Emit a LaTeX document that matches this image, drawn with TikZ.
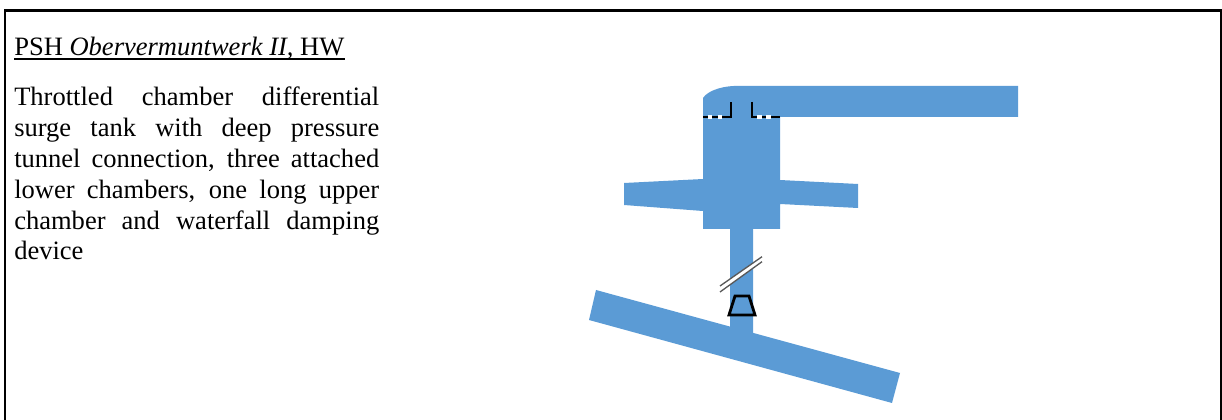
\documentclass[tikz,border=0pt]{standalone}
\usepackage{fontspec}
\setmainfont{Liberation Serif}
\usepackage{tikz}
\usetikzlibrary{positioning}
\definecolor{waterblue}{RGB}{91,155,213}
\begin{document}
\begin{tikzpicture}[
  x=0.75pt, y=-0.75pt,
  water/.style={fill=waterblue, draw=none},
  edge/.style={draw=black, line width=2.1pt},
  lip/.style={draw=black, line width=2.1pt},
  gap/.style={draw=white, line width=2.3pt},
  heading/.style={font=\fontsize{19.9}{23}\selectfont, anchor=base west, inner sep=0pt},
  body/.style={font=\fontsize{19.9}{23.1}\selectfont, anchor=north west, inner sep=0pt,
    text width=273.75pt, align=justify},
]
  \useasboundingbox (0,0) rectangle (1222,420);
  % Frame, open at the bottom
  \draw[edge] (5,420) -- (5,10.5) -- (1221,10.5) -- (1221,420);
  % Title and description
  \node[heading] (title) at (14,56) {PSH \textit{Obervermuntwerk II,} HW};
  \draw[line width=1.5pt] ([yshift=-2.4pt]title.base west) -- ([yshift=-2.4pt]title.base east);
  \node[body] (descr) at (14,87) {\hyphenpenalty=10000 Throttled chamber differential surge tank with deep pressure tunnel connection, three attached lower chambers, one long upper chamber and waterfall damping device};
  % Pressure tunnel
  \fill[water] (596,290) -- (900,373) -- (892,403) -- (589,320) -- cycle;
  % Shaft, chambers and upper tunnel
  \fill[water] (703,98) .. controls (708,90) and (725,85) .. (742,86) -- (1018,86)
    -- (1018,117) -- (780,117) -- (780,180) -- (858,184) -- (858,208) -- (780,204)
    -- (780,229) -- (753,229) -- (753,350) -- (730,350) -- (730,229) -- (703,229)
    -- (703,211) -- (624,205) -- (624,183) -- (703,179) -- cycle;
  % Waterfall device
  \draw[lip] (703,117) -- (731,117) -- (731,102);
  \draw[lip] (752,102) -- (752,117) -- (780,117);
  \foreach \a/\b in {708/712,718/722,757/761.5,766/770.5}{
    \draw[gap] (\a,117) -- (\b,117);
  }
  % Break in the shaft
  \fill[white] (720,286) -- (762,256.7) -- (762,261.7) -- (720,292) -- cycle;
  \draw[gray!70!black, line width=1pt] (720,286) -- (762,256.7);
  \draw[gray!70!black, line width=1pt] (720,292) -- (762,261.7);
  % Throttle
  \draw[lip, line join=miter] (735,296) -- (749,296) -- (755,315) -- (729,315) -- cycle;
\end{tikzpicture}
\end{document}
